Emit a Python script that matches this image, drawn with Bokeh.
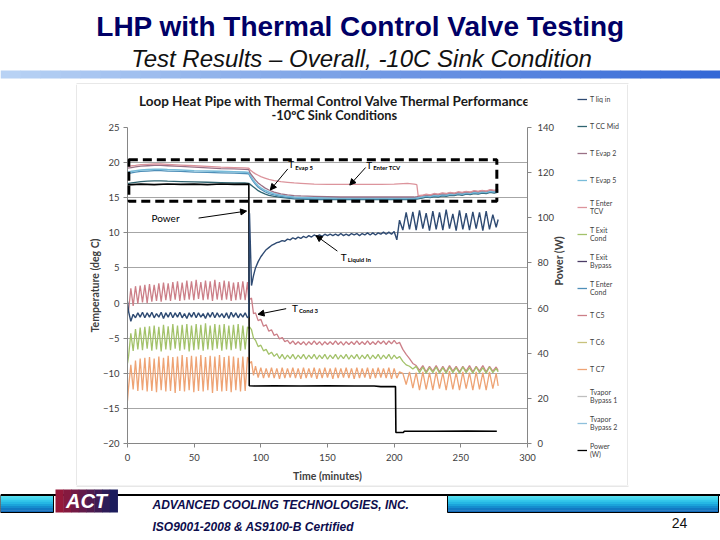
import math

from bokeh.plotting import figure
from bokeh.layouts import column, row
from bokeh.models import (Range1d, LinearAxis, FixedTicker, Legend, LegendItem,
                          Label, BoxAnnotation, Arrow, NormalHead)
from bokeh.core.properties import value
from bokeh.embed import file_html
from bokeh.resources import INLINE

# ---- values: time (minutes), temperature (deg C), power (W)
X_TICKS = [0, 50, 100, 150, 200, 250, 300]
Y_TICKS = [-20, -15, -10, -5, 0, 5, 10, 15, 20, 25]
P_TICKS = [0, 20, 40, 60, 80, 100, 120, 140]

# lower (oscillating) traces share one time base, in three test phases
T_A = [0, 0.8, 2.5, 4.25, 6, 7.75, 9.5, 11.25, 13, 14.75,
       16.5, 18.25, 20, 21.75, 23.5, 25.25, 27, 28.75, 30.5, 32.25,
       34, 35.75, 37.5, 39.25, 41, 42.75, 44.5, 46.25, 48, 49.75,
       51.5, 53.25, 55, 56.75, 58.5, 60.25, 62, 63.75, 65.5, 67.25,
       69, 70.75, 72.5, 74.25, 76, 77.75, 79.5, 81.25, 83, 84.75,
       86.5, 88.25, 90]
T_B = [91, 91.5, 93, 94.5, 96, 98, 100, 102, 104, 106,
       108, 110, 112, 114, 116, 118, 120, 122, 124, 126,
       128, 130, 132, 134, 136, 138, 140, 142, 144, 146,
       148, 150, 152, 154, 156, 158, 160, 162, 164, 166,
       168, 170, 172, 174, 176, 178, 180, 182, 184, 186,
       188, 190, 192, 194, 196, 198, 200, 202, 204]
T_C = [206.5, 209, 211.5, 214, 216.5, 219, 221.5, 224, 226.5, 229,
       231.5, 234, 236.5, 239, 241.5, 244, 246.5, 249, 251.5, 254,
       256.5, 259, 261.5, 264, 266.5, 269, 271.5, 274, 276.5, 278]

T_C5_A = [-0.6, -1.1, 2.1, -0.4, 2.4, -0.1, 2.5, 0.1, 2.6, 0.0,
          2.7, 0.2, 2.6, 0.3, 2.8, 0.2, 2.9, 0.4, 2.8, 0.3,
          3.0, 0.5, 3.1, 0.3, 2.9, 0.4, 3.2, 0.5, 3.1, 0.4,
          3.3, 0.6, 3.0, 0.4, 3.2, 0.5, 3.1, 0.3, 3.3, 0.5,
          3.0, 0.4, 3.2, 0.5, 3.1, 0.3, 2.9, 0.4, 3.0, 0.5,
          3.1, 0.4, 3.0]
T_C5_B = [0.2, 0.5, 0.7, -1.5, -1.4, -2.5, -2.3, -3.3, -3.1, -4.0,
          -3.8, -4.6, -4.4, -5.1, -4.9, -5.5, -5.3, -5.8, -5.4, -5.9,
          -5.5, -5.9, -5.5, -6.0, -5.5, -5.9, -5.4, -5.9, -5.5, -6.0,
          -5.5, -5.9, -5.5, -5.9, -5.4, -5.9, -5.5, -6.0, -5.5, -5.9,
          -5.5, -5.9, -5.4, -5.9, -5.5, -5.9, -5.4, -5.9, -5.5, -5.9,
          -5.4, -5.8, -5.4, -5.9, -5.4, -5.8, -5.3, -5.8, -5.6]
T_C5_C = [-6.6, -7.3, -7.9, -8.6, -8.9, -9.6, -8.9, -9.8, -9.0, -9.7,
          -8.9, -9.8, -9.0, -9.8, -8.9, -9.7, -9.0, -9.8, -9.0, -9.7,
          -8.9, -9.8, -9.0, -9.7, -8.9, -9.8, -9.0, -9.7, -9.1, -9.6]

EXIT_COND_A = [-8.6, -7.6, -4.3, -6.8, -3.7, -6.6, -3.5, -6.7, -3.4, -6.5,
               -3.3, -6.8, -3.2, -6.6, -3.4, -6.9, -3.1, -6.6, -3.3, -6.7,
               -3.0, -6.5, -3.2, -6.8, -3.1, -6.6, -3.0, -6.9, -3.2, -6.7,
               -3.0, -6.6, -3.1, -6.8, -2.9, -6.6, -3.2, -6.7, -3.0, -6.5,
               -3.1, -6.8, -3.0, -6.6, -3.2, -6.7, -3.1, -6.5, -3.0, -6.8,
               -3.2, -6.6, -3.4]
EXIT_COND_B = [-3.6, -3.4, -3.8, -5.0, -5.3, -6.2, -6.0, -6.8, -6.6, -7.3,
               -7.0, -7.6, -7.2, -7.9, -7.3, -8.0, -7.4, -7.9, -7.3, -8.0,
               -7.4, -7.9, -7.3, -8.0, -7.4, -7.9, -7.3, -8.0, -7.4, -7.9,
               -7.3, -8.0, -7.4, -7.9, -7.3, -8.0, -7.4, -7.9, -7.3, -8.0,
               -7.4, -7.9, -7.3, -8.0, -7.4, -7.9, -7.3, -8.0, -7.4, -7.9,
               -7.3, -8.0, -7.4, -7.9, -7.3, -8.0, -7.4, -7.9, -7.6]
EXIT_COND_C = [-8.3, -8.8, -9.0, -9.4, -9.0, -9.9, -9.1, -10.0, -9.2, -9.9,
               -9.1, -10.0, -9.2, -10.0, -9.1, -9.9, -9.2, -10.0, -9.1, -9.9,
               -9.2, -10.0, -9.1, -9.9, -9.2, -10.0, -9.1, -9.9, -9.3, -9.8]

T_C7_A = [-13.9, -12.0, -8.8, -12.3, -8.2, -12.5, -7.9, -12.4, -7.8, -12.6,
          -7.7, -12.5, -7.9, -12.7, -7.6, -12.4, -7.8, -12.6, -7.5, -12.5,
          -7.7, -12.8, -7.6, -12.5, -7.4, -12.6, -7.7, -12.4, -7.5, -12.7,
          -7.6, -12.5, -7.4, -12.6, -7.7, -12.4, -7.5, -12.8, -7.6, -12.5,
          -7.4, -12.6, -7.7, -12.5, -7.5, -12.7, -7.6, -12.4, -7.8, -12.6,
          -7.6, -12.5, -7.7]
T_C7_B = [-8.0, -8.6, -8.3, -10.3, -9.0, -10.6, -9.2, -10.7, -9.3, -10.6,
          -9.2, -10.7, -9.3, -10.8, -9.2, -10.7, -9.3, -10.6, -9.2, -10.7,
          -9.3, -10.8, -9.2, -10.7, -9.3, -10.6, -9.2, -10.8, -9.3, -10.7,
          -9.2, -10.6, -9.3, -10.8, -9.2, -10.7, -9.3, -10.6, -9.2, -10.7,
          -9.3, -10.8, -9.2, -10.7, -9.3, -10.6, -9.2, -10.8, -9.3, -10.7,
          -9.2, -10.6, -9.3, -10.7, -9.2, -10.8, -9.3, -10.7, -9.8]
T_C7_C = [-10.0, -11.6, -9.8, -12.1, -9.9, -12.4, -9.8, -12.3, -9.9, -12.4,
          -9.8, -12.2, -9.9, -12.4, -9.7, -12.3, -9.9, -12.4, -9.8, -12.2,
          -9.9, -12.4, -9.8, -12.3, -9.9, -12.4, -9.8, -12.2, -10.0, -11.8]

LIQ_IN_A = [0.2, -1.2, -2.6, -1.6, -2.1, -1.4, -2.0, -1.3, -2.1, -1.4,
            -2.0, -1.3, -2.1, -1.5, -2.0, -1.3, -2.2, -1.4, -2.0, -1.3,
            -2.1, -1.4, -2.0, -1.3, -2.1, -1.5, -2.2, -1.4, -2.0, -1.3,
            -2.1, -1.4, -2.0, -1.5, -2.2, -1.4, -2.0, -1.3, -2.1, -1.4,
            -2.0, -1.5, -2.1, -1.4, -2.2, -1.3, -2.0, -1.4, -2.1, -1.5,
            -2.0, -1.4, -2.1]
LIQ_IN_B = [-1.9, 12.8, 2.5, 3.9, 5.0, 5.9, 6.6, 7.1, 7.6, 7.9,
            8.2, 8.4, 8.6, 8.7, 8.9, 8.8, 9.1, 9.0, 9.3, 9.1,
            9.4, 9.2, 9.5, 9.3, 9.6, 9.4, 9.7, 9.5, 9.7, 9.5,
            9.8, 9.6, 9.8, 9.6, 9.8, 9.6, 9.9, 9.6, 9.8, 9.6,
            9.9, 9.7, 9.9, 9.6, 9.9, 9.7, 10.0, 9.7, 10.0, 9.7,
            10.0, 9.8, 10.1, 9.8, 10.1, 9.8, 10.2, 9.0, 11.8]
LIQ_IN_C = [10.4, 12.9, 10.5, 13.0, 10.4, 13.2, 10.6, 12.8, 10.3, 13.1,
            10.5, 12.9, 10.4, 13.3, 10.6, 12.7, 10.3, 13.2, 10.5, 12.8,
            10.4, 13.0, 10.6, 12.9, 10.3, 13.1, 10.5, 12.6, 10.8, 11.9]

# upper (evaporator side) traces
T_UP = [0, 3, 6, 10, 15, 20, 25, 30, 40, 50,
        60, 70, 80, 88, 91, 92, 94, 96, 98, 100,
        103, 106, 110, 115, 120, 125, 130, 140, 150, 160,
        170, 180, 190, 200, 210, 215, 217, 218, 221, 224,
        227, 230, 233, 236, 239, 242, 245, 248, 251, 254,
        257, 260, 263, 266, 269, 272, 275, 278]
ENTER_TCV = [19.45, 19.55, 19.6, 19.7, 19.75, 19.8, 19.8, 19.75, 19.65, 19.55,
             19.45, 19.35, 19.3, 19.25, 19.2, 18.95, 18.65, 18.4, 18.2, 18.0,
             17.8, 17.6, 17.45, 17.3, 17.2, 17.1, 17.05, 16.95, 16.9, 16.9,
             16.9, 16.9, 16.9, 16.95, 17.05, 16.95, 16.85, 15.3, 15.35, 15.5,
             15.4, 15.6, 15.5, 15.7, 15.6, 15.75, 15.65, 15.85, 15.75, 15.9,
             15.8, 16.0, 15.9, 16.05, 15.95, 16.15, 16.05, 16.2]
EVAP_2 = [19.2, 19.3, 19.4, 19.5, 19.55, 19.6, 19.6, 19.55, 19.45, 19.35,
          19.25, 19.15, 19.1, 19.05, 19.0, 18.5, 18.0, 17.5, 17.1, 16.8,
          16.4, 16.1, 15.8, 15.55, 15.4, 15.3, 15.25, 15.2, 15.15, 15.1,
          15.1, 15.1, 15.1, 15.1, 15.1, 15.1, 15.15, 15.2, 15.3, 15.4,
          15.35, 15.5, 15.45, 15.6, 15.55, 15.7, 15.6, 15.75, 15.7, 15.85,
          15.75, 15.95, 15.85, 16.0, 15.9, 16.1, 16.0, 16.1]
EVAP_5 = [18.6, 18.75, 18.85, 18.95, 19.0, 19.05, 19.05, 19.0, 18.95, 18.85,
          18.8, 18.75, 18.7, 18.65, 18.6, 18.2, 17.6, 17.1, 16.7, 16.4,
          16.05, 15.8, 15.55, 15.35, 15.2, 15.1, 15.05, 15.0, 14.95, 14.95,
          14.95, 14.95, 14.95, 14.95, 14.95, 15.0, 15.0, 15.05, 15.15, 15.3,
          15.2, 15.35, 15.3, 15.45, 15.4, 15.55, 15.5, 15.65, 15.55, 15.7,
          15.65, 15.8, 15.7, 15.85, 15.8, 15.95, 15.85, 16.0]
ENTER_COND = [18.4, 18.55, 18.65, 18.75, 18.8, 18.85, 18.85, 18.8, 18.75, 18.65,
              18.6, 18.55, 18.5, 18.45, 18.4, 18.0, 17.4, 16.9, 16.5, 16.2,
              15.85, 15.6, 15.4, 15.2, 15.05, 14.95, 14.9, 14.85, 14.85, 14.85,
              14.85, 14.85, 14.85, 14.85, 14.85, 14.85, 14.9, 14.95, 15.05, 15.2,
              15.1, 15.25, 15.2, 15.35, 15.3, 15.45, 15.4, 15.55, 15.45, 15.6,
              15.55, 15.7, 15.6, 15.75, 15.7, 15.85, 15.75, 15.9]
CC_MID = [17.0, 17.1, 17.2, 17.3, 17.35, 17.4, 17.4, 17.35, 17.3, 17.25,
          17.2, 17.15, 17.1, 17.1, 17.05, 16.9, 16.6, 16.3, 16.0, 15.8,
          15.55, 15.35, 15.2, 15.05, 14.95, 14.85, 14.8, 14.75, 14.75, 14.75,
          14.75, 14.75, 14.75, 14.75, 14.75, 14.75, 14.8, 14.85, 14.95, 15.1,
          15.0, 15.15, 15.1, 15.25, 15.2, 15.35, 15.3, 15.45, 15.35, 15.5,
          15.45, 15.6, 15.5, 15.65, 15.6, 15.75, 15.65, 15.8]

# heater power (right axis)
T_PWR = [0, 10, 20, 30, 40, 50, 60, 70, 80, 91, 91.3, 95, 110, 130, 150,
         170, 185, 190, 200, 201, 201.3, 207, 207.5, 230, 255, 277]
POWER = [114.6, 114.9, 114.7, 115.0, 114.8, 114.9, 114.7, 115.0, 114.8, 114.9,
         25.6, 25.5, 25.6, 25.5, 25.6, 25.5, 25.5, 25.2, 25.2, 25.2,
         4.9, 4.9, 5.4, 5.4, 5.5, 5.4]

LEGEND = [("T liq in", "#2e4a72"), ("T CC Mid", "#2f6470"), ("T Evap 2", "#9a7186"),
          ("T Evap 5", "#79bcd9"), ("T Enter\nTCV", "#dc949c"), ("T Exit\nCond", "#a3c26a"),
          ("T Exit\nBypass", "#4b3c66"), ("T Enter\nCond", "#4f8fb8"), ("T C5", "#cc7f88"),
          ("T C6", "#c8c27c"), ("T C7", "#eea374"), ("Tvapor\nBypass 1", "#bfbfbf"),
          ("Tvapor\nBypass 2", "#8fc0dc"), ("Power\n(W)", "#000000")]

for a, b in [(T_A, T_C5_A), (T_A, EXIT_COND_A), (T_A, T_C7_A), (T_A, LIQ_IN_A),
             (T_B, T_C5_B), (T_B, EXIT_COND_B), (T_B, T_C7_B), (T_B, LIQ_IN_B),
             (T_C, T_C5_C), (T_C, EXIT_COND_C), (T_C, T_C7_C), (T_C, LIQ_IN_C),
             (T_UP, ENTER_TCV), (T_UP, EVAP_2), (T_UP, EVAP_5), (T_UP, ENTER_COND),
             (T_UP, CC_MID), (T_PWR, POWER)]:
    assert len(a) == len(b), (len(a), len(b))

T_LOW = T_A + T_B + T_C
COLOR = dict(LEGEND)
BORDER = "#d0d0d0"
AX = "#868686"
TXT = "#404040"


# ---- helpers for the slide furniture (coordinates are page pixels, y down)
def deco(w, h, x0, y0):
    f = figure(width=w, height=h, x_range=Range1d(x0, x0 + w), y_range=Range1d(y0 + h, y0),
               output_backend="svg", toolbar_location=None, title=None,
               x_axis_type=None, y_axis_type=None, min_border=0,
               outline_line_color=None, background_fill_color="white", border_fill_color="white")
    f.grid.visible = False
    return f


def txt(f, x, y, s, size, font="Liberation Sans", color="black", style="normal", align="center"):
    f.text(x=[x], y=[y], text=[s], text_font=value(font), text_font_size=value(size),
           text_font_style=value(style), text_color=color, text_align=value(align),
           text_baseline=value("middle"))


def mix(c1, c2, f):
    a = [int(c1[i:i + 2], 16) for i in (1, 3, 5)]
    b = [int(c2[i:i + 2], 16) for i in (1, 3, 5)]
    return "#%02x%02x%02x" % tuple(round(u + (v - u) * f) for u, v in zip(a, b))


# ---- header: slide title and the top edge of the chart picture
head = deco(720, 84, 0, 0)
txt(head, 360, 26, "LHP with Thermal Control Valve Testing", "28px", color="#000066", style="bold")
txt(head, 361, 58, "Test Results \u2013 Overall, -10C Sink Condition", "24px", color="#111111",
    style="italic")
n = 36
head.quad(left=[i * 20 for i in range(n)], right=[i * 20 + 20.6 for i in range(n)],
          top=[70] * n, bottom=[78] * n, line_color=None,
          fill_color=[mix("#b8d2f4", "#3468d6", i / (n - 1)) for i in range(n)])
head.segment(x0=[76], y0=[83.5], x1=[628], y1=[83.5], line_color=BORDER, line_width=1)

# ---- chart title strip
ttl = deco(497, 38, 77, 84)
txt(ttl, 335, 100, "Loop Heat Pipe with Thermal Control Valve Thermal Performance", "13.5px",
    font="Lato", color="#1a1a1a", style="bold")
txt(ttl, 334, 114.3, "-10\u00baC Sink Conditions", "12.8px", font="Lato", color="#1a1a1a", style="bold")

# ---- left edge of the chart picture
edge = deco(77, 401, 0, 84)
edge.segment(x0=[76.5], y0=[84], x1=[76.5], y1=[485], line_color=BORDER, line_width=1)

# ---- the chart
p = figure(width=497, height=363, x_range=Range1d(0, 300), y_range=Range1d(-20, 25),
           output_backend="svg", toolbar_location=None, title=None,
           min_border_left=50, min_border_right=44, min_border_top=5, min_border_bottom=42,
           outline_line_color=None, background_fill_color="white", border_fill_color="white")
p.extra_y_ranges = {"pwr": Range1d(0, 140)}

p.xgrid.visible = False
p.ygrid.ticker = FixedTicker(ticks=Y_TICKS[1:-1])
p.ygrid.grid_line_color = "#a6a6a6"

p.xaxis.ticker = FixedTicker(ticks=X_TICKS)
p.yaxis.ticker = FixedTicker(ticks=Y_TICKS)
p.xaxis.axis_label = "Time (minutes)"
p.yaxis.axis_label = "Temperature (deg C)"
right = LinearAxis(y_range_name="pwr", ticker=FixedTicker(ticks=P_TICKS), axis_label="Power (W)")
p.add_layout(right, "right")

for ax in [p.xaxis[0], p.yaxis[0], right]:
    ax.axis_line_color = AX
    ax.major_tick_line_color = AX
    ax.major_tick_out = 4
    ax.major_tick_in = 0
    ax.minor_tick_out = 0
    ax.minor_tick_in = 0
    ax.major_label_text_font = "Lato"
    ax.major_label_text_font_size = "9.5px"
    ax.major_label_text_color = TXT
    ax.major_label_standoff = 4
    ax.axis_label_text_font = "Lato"
    ax.axis_label_text_font_size = "10.5px"
    ax.axis_label_text_font_style = "bold"
    ax.axis_label_text_color = TXT
p.xaxis[0].major_label_standoff = 6
p.xaxis[0].axis_label_standoff = 6
p.yaxis[0].axis_label_standoff = -1
right.major_label_standoff = 6
right.axis_label_standoff = 2
right.axis_label_orientation = math.pi / 2

p.line(T_LOW, T_C5_A + T_C5_B + T_C5_C, line_color=COLOR["T C5"], line_width=1.3)
p.line(T_LOW, T_C7_A + T_C7_B + T_C7_C, line_color=COLOR["T C7"], line_width=1.3)
p.line(T_LOW, EXIT_COND_A + EXIT_COND_B + EXIT_COND_C, line_color=COLOR["T Exit\nCond"], line_width=1.3)
p.line(T_UP, CC_MID, line_color=COLOR["T CC Mid"], line_width=1.3)
p.line(T_UP, ENTER_COND, line_color=COLOR["T Enter\nCond"], line_width=1.3)
p.line(T_UP, EVAP_5, line_color=COLOR["T Evap 5"], line_width=1.6)
p.line(T_UP, EVAP_2, line_color=COLOR["T Evap 2"], line_width=1.3)
p.line(T_UP, ENTER_TCV, line_color=COLOR["T Enter\nTCV"], line_width=1.3)
p.line(T_PWR, POWER, line_color=COLOR["Power\n(W)"], line_width=1.6, y_range_name="pwr")
p.line(T_LOW, LIQ_IN_A + LIQ_IN_B + LIQ_IN_C, line_color=COLOR["T liq in"], line_width=1.4)

# callouts inside the plot area
p.add_layout(BoxAnnotation(left=1, right=277, top=20.4, bottom=14.5, fill_color=None, fill_alpha=0,
                           line_color="black", line_alpha=1, line_width=3, line_dash="9 5"))


def arrow(x0, y0, x1, y1):
    p.add_layout(Arrow(end=NormalHead(size=6, fill_color="black", line_color="black"),
                       x_start=x0, y_start=y0, x_end=x1, y_end=y1,
                       line_color="black", line_width=1))


def tag(x, y, sub):
    p.add_layout(Label(x=x, y=y, text="T", text_font="Lato", text_font_size="10px",
                       text_color="black", text_baseline="middle", text_align="left"))
    p.add_layout(Label(x=x, y=y, x_offset=7, y_offset=-3, text=sub, text_font="Lato",
                       text_font_size="6px", text_font_style="bold", text_color="black",
                       text_baseline="middle", text_align="left"))


arrow(120.2, 19.1, 107.1, 16.1)
tag(120.5, 19.8, "Evap 5")
arrow(178.6, 19.3, 166.7, 16.8)
tag(179.0, 19.7, "Enter TCV")
arrow(53.3, 12.1, 89.3, 13.1)
p.add_layout(Label(x=28.5, y=12.1, text="Power", text_font="Lato", text_font_size="10px",
                   text_color="black", text_baseline="middle", text_align="center"))
arrow(157.4, 7.4, 141.4, 9.6)
tag(160.0, 6.6, "Liquid In")
arrow(119.0, -0.8, 97.9, -1.6)
tag(123.3, -0.65, "Cond 3")

# ---- legend column with the right edge of the chart picture
# (swatch renderers sit outside this strip's view; only their legend entries show)
lg = deco(54, 401, 574, 84)
lg.segment(x0=[627.5], y0=[84], x1=[627.5], y1=[485], line_color=BORDER, line_width=1)
items = [LegendItem(label=lab, renderers=[lg.line([0, 1], [0, 0], line_color=c, line_width=1.3)])
         for lab, c in LEGEND]
lg.add_layout(Legend(items=items, location=(3, 24), orientation="vertical",
                     border_line_color=None, background_fill_alpha=0, margin=0, padding=3,
                     glyph_width=10, glyph_height=22, label_height=22, spacing=5, label_standoff=3,
                     label_text_font="Lato", label_text_font_size="7px", label_text_color=TXT,
                     label_text_line_height=1.1))

# ---- footer
foot = deco(720, 55, 0, 485)
foot.segment(x0=[76], y0=[485.5], x1=[628], y1=[485.5], line_color=BORDER, line_width=1)
foot.quad(left=[0], right=[720], top=[493.5], bottom=[495.5], fill_color="black", line_color=None)
cyan = ["#5ae0f0", "#46d6ee", "#34c8ea", "#25b8e4", "#1ba4da", "#158ecf", "#127ac3", "#106ab8"]
for x0, x1 in [(0, 53), (447, 718)]:
    foot.quad(left=[x0] * 8, right=[x1] * 8, top=[495 + k * 2.1 for k in range(8)],
              bottom=[495 + k * 2.1 + 2.4 for k in range(8)], fill_color=cyan, line_color=None)
    foot.quad(left=[x0], right=[x1], top=[495], bottom=[512], fill_color=None, line_color="black")
foot.quad(left=[55 + k * 7.75 for k in range(8)], right=[55 + k * 7.75 + 8.2 for k in range(8)],
          top=[489] * 8, bottom=[512] * 8, line_color=None,
          fill_color=[mix("#96183a", "#1c1c5c", k / 7) for k in range(8)])
txt(foot, 86, 500.5, "ACT", "20px", color="white", style="bold italic")
txt(foot, 152, 504, "ADVANCED COOLING TECHNOLOGIES, INC.", "12px",
    color="#0d0d4d", style="bold italic", align="left")
txt(foot, 152, 526, "ISO9001-2008 & AS9100-B Certified", "12px",
    color="#0d0d4d", style="bold italic", align="left")
txt(foot, 679, 522, "24", "14px", color="#111111")

page = column(head, row(edge, column(ttl, p), lg), foot)
open("out.html", "w").write(file_html(page, INLINE))
